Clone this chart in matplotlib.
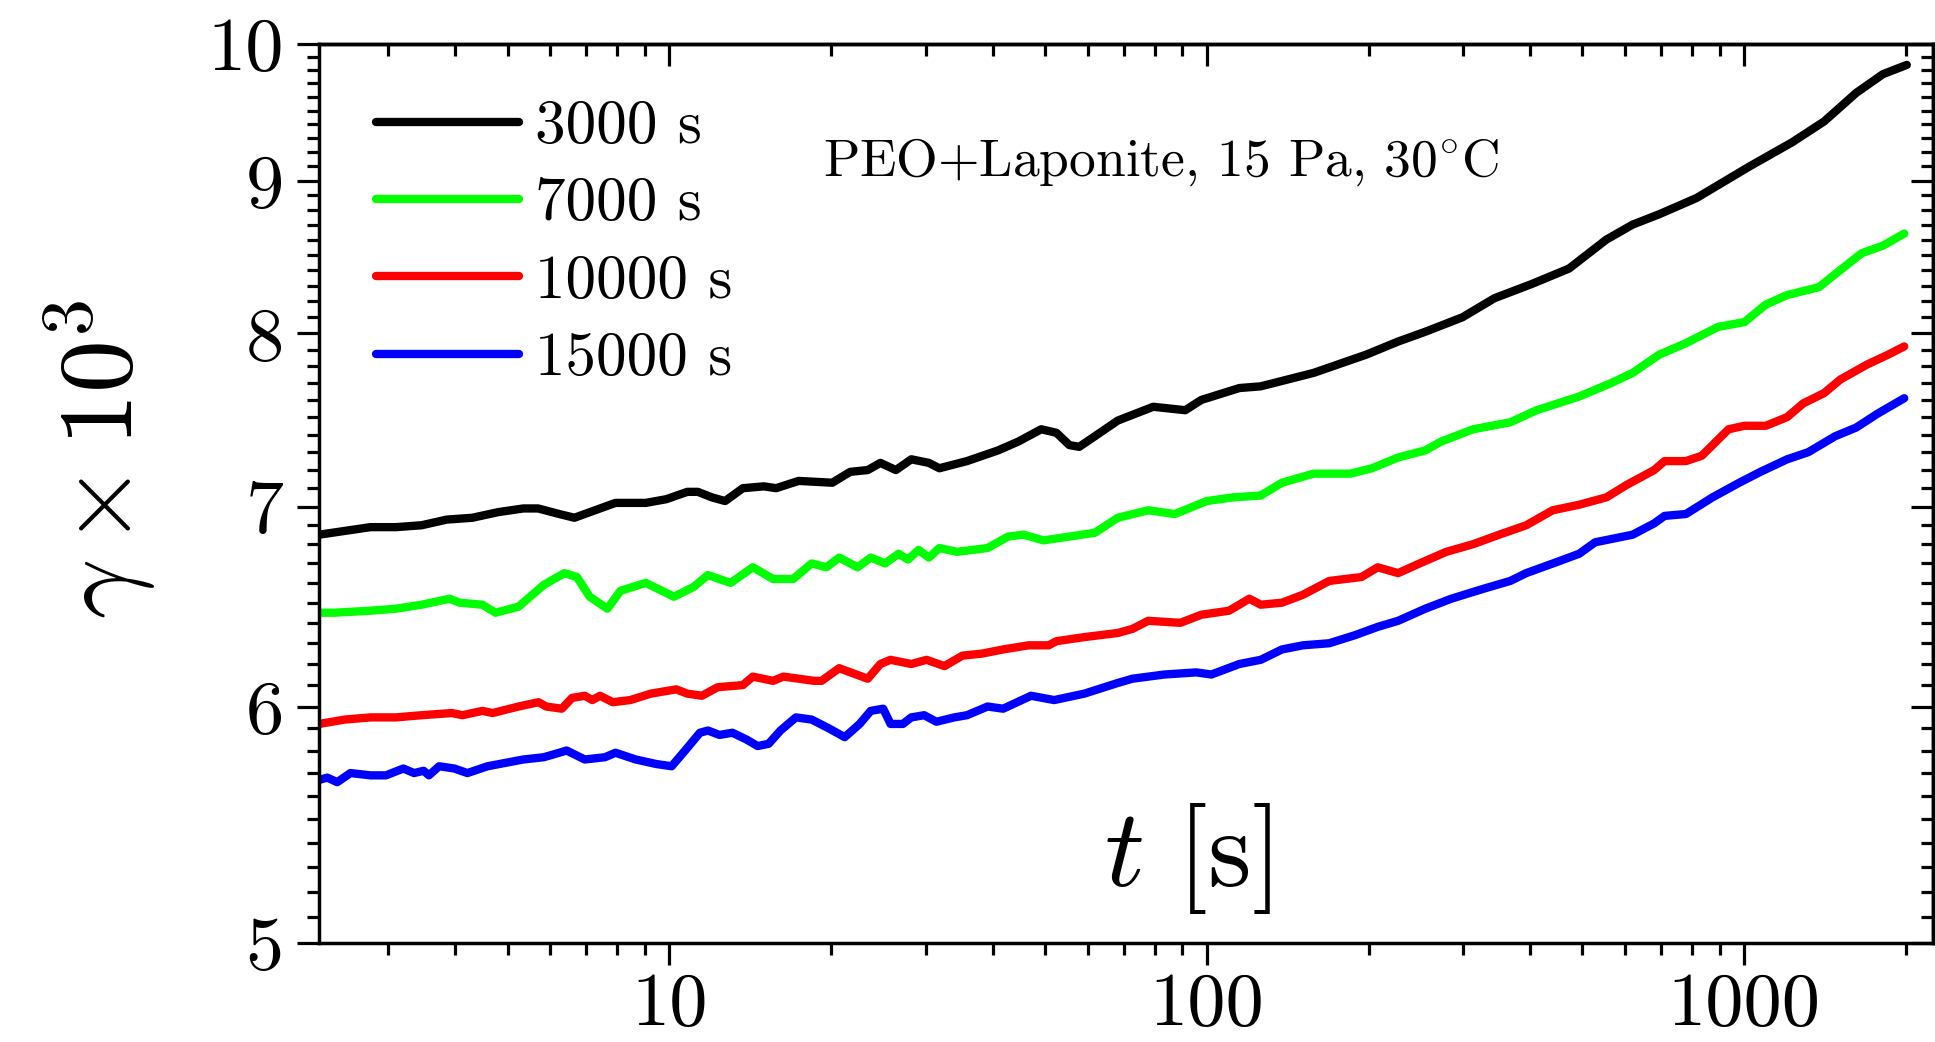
import matplotlib
matplotlib.use('Agg')
import matplotlib.pyplot as plt
from matplotlib.ticker import FixedLocator, MultipleLocator, NullFormatter, FuncFormatter, LogLocator

# creep curves, gamma x 10^3 vs t
t_3000 = [2.23, 2.49, 2.78, 3.10, 3.46, 3.85, 4.30, 4.80, 5.35, 5.70, 6.24, 6.66, 7.27, 7.94, 9.04,
          9.87, 10.8, 11.3, 12.0, 12.7, 13.7, 15.0, 15.8, 17.4, 20.1, 21.7, 23.4, 24.7, 26.4, 28.2,
          30.4, 31.8, 35.8, 40.9, 44.6, 49.2, 52.5, 55.5, 57.9, 61.9, 68.3, 79.5, 91.2, 97.7, 115,
          126, 158, 198, 227, 255, 299, 343, 402, 472, 554, 620, 695, 815, 1024, 1228,
          1408, 1616, 1812, 2007]
g_3000 = [6.85, 6.87, 6.89, 6.89, 6.90, 6.93, 6.94, 6.97, 6.99, 6.99, 6.96, 6.94, 6.98, 7.02, 7.02,
          7.04, 7.08, 7.08, 7.05, 7.03, 7.10, 7.11, 7.10, 7.14, 7.13, 7.19, 7.20, 7.24, 7.20, 7.26,
          7.24, 7.21, 7.25, 7.31, 7.36, 7.43, 7.41, 7.34, 7.33, 7.39, 7.48, 7.56, 7.54, 7.60, 7.67,
          7.68, 7.76, 7.87, 7.95, 8.01, 8.10, 8.22, 8.31, 8.41, 8.60, 8.70, 8.77, 8.88, 9.10, 9.27,
          9.42, 9.63, 9.77, 9.84]

t_7000 = [2.23, 2.38, 2.78, 3.10, 3.46, 3.90, 4.07, 4.49, 4.75, 5.24, 5.84, 6.38, 6.73, 7.11, 7.67,
          8.11, 9.04, 10.2, 11.1, 11.8, 13.0, 14.3, 15.6, 17.0, 18.4, 19.6, 20.7, 22.4, 23.7, 25.2,
          26.7, 27.8, 29.1, 30.4, 31.8, 34.3, 39.1, 42.7, 45.6, 49.7, 55.5, 61.9, 68.3, 77.8, 87.2,
          100, 112, 126, 138, 158, 185, 203, 227, 255, 273, 313, 367, 411, 493, 566,
          620, 695, 779, 894, 1001, 1097, 1202, 1377, 1509, 1654, 1812, 1985]
g_7000 = [6.45, 6.45, 6.46, 6.47, 6.49, 6.52, 6.50, 6.49, 6.45, 6.48, 6.59, 6.65, 6.63, 6.53, 6.47,
          6.56, 6.60, 6.53, 6.58, 6.64, 6.60, 6.68, 6.62, 6.62, 6.70, 6.68, 6.73, 6.68, 6.73, 6.70,
          6.75, 6.72, 6.77, 6.73, 6.78, 6.76, 6.78, 6.84, 6.85, 6.82, 6.84, 6.86, 6.94, 6.98, 6.96,
          7.03, 7.05, 7.06, 7.13, 7.18, 7.18, 7.21, 7.27, 7.31, 7.36, 7.43, 7.47, 7.54, 7.62, 7.70,
          7.76, 7.87, 7.94, 8.04, 8.07, 8.18, 8.24, 8.29, 8.40, 8.51, 8.56, 8.64]

t_10000 = [2.23, 2.49, 2.78, 3.10, 3.46, 3.94, 4.12, 4.49, 4.69, 5.24, 5.71, 5.90, 6.31, 6.59, 6.96,
           7.19, 7.43, 7.85, 8.46, 9.24, 10.3, 10.8, 11.5, 12.3, 13.7, 14.3, 15.6, 16.3, 18.6, 19.2,
           20.7, 23.4, 24.7, 25.8, 28.2, 30.1, 32.5, 35.1, 38.2, 41.8, 46.6, 50.8, 52.5, 59.2, 68.3,
           72.7, 77.8, 89.3, 97.7, 110, 120, 126, 138, 151, 169, 194, 208, 227, 249, 279,
           313, 350, 393, 440, 493, 554, 606, 680, 711, 779, 834, 935, 1001, 1097, 1202,
           1288, 1408, 1509, 1692, 1853, 1985]
g_10000 = [5.92, 5.94, 5.95, 5.95, 5.96, 5.97, 5.96, 5.98, 5.97, 6.00, 6.02, 6.00, 5.99, 6.04, 6.05,
           6.03, 6.05, 6.02, 6.03, 6.06, 6.08, 6.06, 6.05, 6.09, 6.10, 6.14, 6.12, 6.14, 6.12, 6.12,
           6.18, 6.13, 6.20, 6.22, 6.20, 6.22, 6.19, 6.24, 6.25, 6.27, 6.29, 6.29, 6.31, 6.33, 6.35,
           6.37, 6.41, 6.40, 6.44, 6.46, 6.52, 6.49, 6.50, 6.54, 6.61, 6.63, 6.68, 6.65, 6.70, 6.76,
           6.80, 6.85, 6.90, 6.98, 7.01, 7.05, 7.12, 7.20, 7.25, 7.25, 7.28, 7.43, 7.45, 7.45, 7.50,
           7.58, 7.64, 7.72, 7.81, 7.87, 7.92]

t_15000 = [2.23, 2.31, 2.41, 2.55, 2.78, 2.97, 3.20, 3.35, 3.49, 3.57, 3.73, 3.98, 4.21, 4.59, 5.35,
           5.84, 6.24, 6.44, 6.96, 7.59, 7.94, 8.66, 9.45, 10.1, 10.7, 11.4, 11.8, 12.4, 13.1, 13.9,
           14.6, 15.3, 16.1, 17.2, 18.4, 19.8, 21.2, 22.6, 23.7, 25.0, 25.8, 27.2, 28.2, 29.8, 31.4,
           33.9, 35.8, 39.1, 41.8, 47.1, 52.0, 59.2, 68.3, 72.7, 83.4, 95.6, 102, 115, 126, 138,
           151, 169, 189, 208, 227, 255, 285, 327, 367, 393, 451, 493, 528, 620, 680,
           711, 779, 873, 979, 1072, 1202, 1316, 1476, 1616, 1771, 1985]
g_15000 = [5.67, 5.68, 5.66, 5.70, 5.69, 5.69, 5.72, 5.70, 5.71, 5.69, 5.73, 5.72, 5.70, 5.73, 5.76,
           5.77, 5.79, 5.80, 5.76, 5.77, 5.79, 5.76, 5.74, 5.73, 5.80, 5.88, 5.89, 5.87, 5.88, 5.85,
           5.82, 5.83, 5.89, 5.95, 5.94, 5.90, 5.86, 5.92, 5.98, 5.99, 5.92, 5.92, 5.95, 5.96, 5.93,
           5.95, 5.96, 6.00, 5.99, 6.05, 6.03, 6.06, 6.11, 6.13, 6.15, 6.16, 6.15, 6.20, 6.22, 6.27,
           6.29, 6.30, 6.34, 6.38, 6.41, 6.47, 6.52, 6.57, 6.61, 6.65, 6.71, 6.75, 6.81, 6.85, 6.91,
           6.95, 6.96, 7.05, 7.13, 7.19, 7.26, 7.30, 7.39, 7.44, 7.52, 7.61]

labels = ['3000 s', '7000 s', '10000 s', '15000 s']
colors = ['#000000', '#00ff00', '#ff0000', '#0000ff']
xticks = [10, 100, 1000]
yticks = [5, 6, 7, 8, 9, 10]

plt.rcParams['font.family'] = ['cmr10', 'DejaVu Serif']
plt.rcParams['mathtext.fontset'] = 'cm'
plt.rcParams['axes.formatter.use_mathtext'] = True
plt.rcParams['axes.unicode_minus'] = False

fig = plt.figure(figsize=(19.35, 10.42), dpi=100)
ax = fig.add_axes([0.1649, 0.0950, 0.8341, 0.8628])

series = [(t_3000, g_3000), (t_7000, g_7000), (t_10000, g_10000), (t_15000, g_15000)]
for (t, g), lab, c in zip(series, labels, colors):
    ax.plot(t, g, color=c, lw=6, label=lab, solid_capstyle='round', solid_joinstyle='round')

ax.set_xscale('log')
ax.set_yscale('log')
ax.set_xlim(2.23, 2246)
ax.set_ylim(5, 10)

intfmt = FuncFormatter(lambda v, p: '%d' % round(v))
ax.xaxis.set_major_locator(FixedLocator(xticks))
ax.xaxis.set_major_formatter(intfmt)
ax.xaxis.set_minor_locator(LogLocator(base=10, subs=range(2, 10)))
ax.xaxis.set_minor_formatter(NullFormatter())
ax.yaxis.set_major_locator(FixedLocator(yticks))
ax.yaxis.set_major_formatter(intfmt)
ax.yaxis.set_minor_locator(MultipleLocator(0.1))
ax.yaxis.set_minor_formatter(NullFormatter())

ax.tick_params(which='major', direction='out', length=15.5, width=2.3, labelsize=55, pad=10,
               top=False, right=False)
ax.tick_params(axis='x', which='major', pad=6)
ax.tick_params(which='minor', direction='out', length=8.3, width=2.3, top=False, right=False)

# mirrored ticks on top and right point inwards
same = (lambda v: v, lambda v: v)
secx = ax.secondary_xaxis('top', functions=same)
secx.xaxis.set_major_locator(FixedLocator(xticks))
secx.xaxis.set_minor_locator(LogLocator(base=10, subs=range(2, 10)))
secx.xaxis.set_major_formatter(NullFormatter())
secx.xaxis.set_minor_formatter(NullFormatter())
secx.tick_params(which='major', direction='in', length=15.5, width=2.3)
secx.tick_params(which='minor', direction='in', length=8.3, width=2.3)

secy = ax.secondary_yaxis('right', functions=same)
secy.yaxis.set_major_locator(FixedLocator(yticks))
secy.yaxis.set_minor_locator(MultipleLocator(0.1))
secy.yaxis.set_major_formatter(NullFormatter())
secy.yaxis.set_minor_formatter(NullFormatter())
secy.tick_params(which='major', direction='in', length=15.5, width=2.3)
secy.tick_params(which='minor', direction='in', length=8.3, width=2.3)

for a in (ax, secx, secy):
    for s in a.spines.values():
        s.set_linewidth(2.5)

ax.legend(loc='upper left', bbox_to_anchor=(0.0353, 0.938), frameon=False, fontsize=44,
          handlelength=2.34, handletextpad=0.26, labelspacing=0.36, borderpad=0, borderaxespad=0)

ax.text(0.3123, 0.853, 'PEO+Laponite, 15 Pa, 30$^{\\circ}$C', transform=ax.transAxes,
        fontsize=38.5, ha='left', va='baseline')
ax.text(0.538, 0.0945, r'$t\ [\mathrm{s}]$', transform=ax.transAxes, fontsize=80,
        ha='center', va='center')
fig.text(100 / 1935, 1 - 459 / 1042, r'$\gamma\times10^3$', rotation=90, fontsize=76,
         ha='center', va='center')

fig.savefig('out.png', dpi=100)
